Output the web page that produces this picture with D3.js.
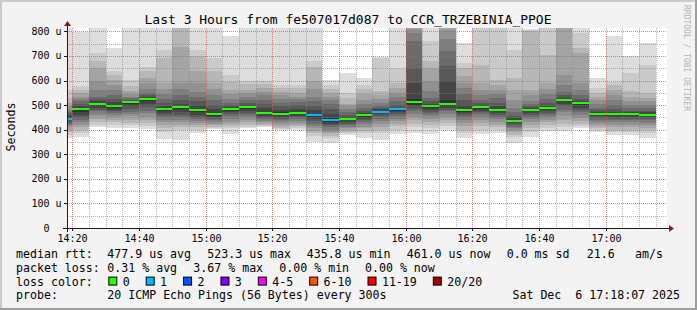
<!DOCTYPE html>
<html>
<head>
<meta charset="utf-8">
<script src="https://cdn.jsdelivr.net/npm/d3@7"></script>
<style>
body { margin: 0; background: #fff; }
svg { display: block; }
text { font-family: "DejaVu Sans Mono", monospace; fill: #000; white-space: pre; }
</style>
</head>
<body>
<div id="chart"></div>
<script>
// 5 minute slots (start time of each smoke column)
const slots = ['14:15','14:20','14:25','14:30','14:35','14:40','14:45','14:50','14:55','15:00',
  '15:05','15:10','15:15','15:20','15:25','15:30','15:35','15:40','15:45','15:50',
  '15:55','16:00','16:05','16:10','16:15','16:20','16:25','16:30','16:35','16:40',
  '16:45','16:50','16:55','17:00','17:05','17:10'];

// median rtt per slot, microseconds
const medians = [445,483,505,497,511,523.3,486,492,480,462,
  484,491,469,464,469,458,439,443,458,474,
  483,513,496,504,480,491,481,435.8,480,488,
  522,507,464,464,464,461];

// lost pings per slot (0 = green, 1 = blue)
const lost = [1,0,0,0,0,0,0,0,0,0,
  0,0,0,0,0,1,1,0,0,1,
  1,0,0,0,0,0,0,0,0,0,
  0,0,0,0,0,0];

// sorted pings 1..10 (low side of the smoke), microseconds
const pingsLow = [
  [366,380,390,400,410,418,425,432,438,442],
  [369,386,400,413,420,431,440,451,458,470],
  [412,420,430,445,455,465,475,482,490,498],
  [405,418,430,440,450,460,468,476,482,490],
  [405,418,428,440,454,462,474,485,495,505],
  [402,415,428,440,452,466,478,492,505,518],
  [362,390,405,420,430,440,452,460,468,478],
  [360,400,410,420,430,440,452,460,470,485],
  [385,400,410,420,428,435,445,452,460,470],
  [402,408,412,418,425,432,440,445,450,456],
  [382,405,415,425,432,445,455,462,470,478],
  [405,412,420,430,440,450,460,468,476,485],
  [410,414,418,424,430,436,442,448,455,462],
  [398,402,408,415,422,430,438,445,452,458],
  [400,408,414,420,428,436,442,450,456,463],
  [348,375,385,395,405,415,425,435,444,452],
  [346,365,375,385,392,400,410,418,425,432],
  [380,386,392,398,405,412,418,425,432,438],
  [366,385,395,405,412,422,430,438,445,452],
  [360,385,400,412,425,435,445,455,462,470],
  [382,400,415,425,435,445,455,462,470,478],
  [385,410,425,438,450,462,475,485,495,502],
  [382,405,420,432,445,455,465,472,480,490],
  [398,415,428,440,452,465,475,482,490,498],
  [366,385,400,415,428,440,450,458,466,474],
  [382,400,415,428,440,452,462,470,478,486],
  [386,398,410,420,432,442,452,460,468,475],
  [346,370,380,390,398,405,412,420,428,434],
  [370,390,405,420,432,442,452,460,468,476],
  [393,408,420,430,440,450,460,468,476,484],
  [395,410,425,440,455,470,482,495,505,515],
  [405,415,425,436,448,460,470,480,490,500],
  [392,398,406,414,422,430,438,446,454,460],
  [380,390,400,410,420,430,438,445,452,458],
  [380,390,400,410,420,430,438,445,452,460],
  [366,385,398,408,418,428,438,445,452,458]
];

// sorted pings 11..20 (high side of the smoke), microseconds
const pingsHigh = [
  [448,455,462,470,480,495,510,530,560,880],
  [487,495,504,515,526,535,549,563,576,797],
  [510,515,525,535,560,600,652,678,713,860],
  [502,512,525,540,563,580,603,624,637,732],
  [514,516,522,528,535,545,556,576,603,860],
  [527,532,540,550,565,590,611,640,657,860],
  [490,498,510,525,545,565,590,690,725,860],
  [496,505,520,542,565,590,735,830,870,900],
  [485,500,515,535,555,590,640,700,725,860],
  [468,485,500,520,540,565,590,640,691,860],
  [486,492,500,510,525,545,563,595,624,780],
  [494,500,510,522,535,548,563,585,600,860],
  [474,490,505,520,540,555,570,585,600,860],
  [470,482,495,510,525,540,555,570,583,860],
  [474,486,500,512,525,535,550,570,583,860],
  [465,480,495,515,535,565,600,655,678,860],
  [446,465,485,505,522,535,549,565,583,603],
  [446,452,460,470,485,495,505,530,549,630],
  [461,468,478,490,505,520,545,565,583,610],
  [478,484,490,498,510,525,540,556,690,694],
  [485,490,500,515,535,549,570,590,651,860],
  [525,590,650,760,795,810,840,870,900,950],
  [499,505,515,530,556,600,651,678,759,860],
  [520,600,660,720,770,805,830,860,900,950],
  [486,500,520,545,570,590,620,650,671,752],
  [494,500,510,522,540,560,590,664,830,880],
  [485,495,510,528,545,560,580,603,825,870],
  [441,447,455,470,490,520,560,610,725,860],
  [483,488,495,505,518,540,560,800,805,810],
  [491,497,508,525,545,565,590,705,813,880],
  [525,530,540,555,580,624,830,860,900,950],
  [510,515,525,540,560,590,712,732,793,860],
  [467,472,480,490,505,520,535,550,569,610],
  [467,473,485,500,520,540,560,580,596,783],
  [466,470,478,488,500,515,535,556,630,698],
  [464,470,478,488,500,515,530,549,664,752]
];

const yTicks = [0,100,200,300,400,500,600,700,800];
const yTickLabels = ['0  ','100 u','200 u','300 u','400 u','500 u','600 u','700 u','800 u'];
const xTickLabels = ['14:20','14:40','15:00','15:20','15:40','16:00','16:20','16:40','17:00'];

const lossColors = ['#26ff00','#00b8ff','#0059ff','#7e00ff','#ff00ff','#ff5500','#ff0000','#a00000'];
const lossLabels = ['0','1','2','3','4-5','6-10','11-19','20/20'];

const rttItems = ['median rtt:','477.9 us avg','523.3 us max','435.8 us min','461.0 us now','0.0 ms sd','21.6','am/s'];
const lossItems = ['packet loss:','0.31 % avg','3.67 % max','0.00 % min','0.00 % now'];
const probeItems = ['probe:','20 ICMP Echo Pings (56 Bytes) every 300s'];
const stamp = 'Sat Dec  6 17:18:07 2025';

const width = 697, height = 310;
const plot = {left: 67, right: 667, top: 28, bottom: 228};

const parse = d3.utcParse('%Y-%m-%d %H:%M:%S');
const at = hm => parse('2025-12-06 ' + hm + (hm.length === 5 ? ':00' : ''));
const x = d3.scaleUtc()
  .domain([at('14:18:17'), at('17:18:17')])
  .range([plot.left, plot.right]);
const y = d3.scaleLinear()
  .domain([0, 813.8])
  .range([plot.bottom, plot.top]);

const svg = d3.select('#chart').append('svg')
  .attr('width', width)
  .attr('height', height);

// background and 3d frame
svg.append('rect').attr('width', width).attr('height', height).attr('fill', '#f3f3f3');
svg.append('path').attr('d', `M1,${height} V1 H${width}`).attr('stroke', '#cbcbcb').attr('stroke-width', 2).attr('fill', 'none');
svg.append('path').attr('d', `M0,${height - 1} H${width - 1} V0`).attr('stroke', '#9e9e9e').attr('stroke-width', 2).attr('fill', 'none');

svg.append('rect')
  .attr('x', plot.left).attr('y', plot.top)
  .attr('width', plot.right - plot.left).attr('height', plot.bottom - plot.top)
  .attr('fill', '#fff');

svg.append('clipPath').attr('id', 'plotclip')
  .append('rect')
  .attr('x', plot.left).attr('y', plot.top)
  .attr('width', plot.right - plot.left).attr('height', plot.bottom - plot.top);

// smoke
const smoke = svg.append('g').attr('clip-path', 'url(#plotclip)').attr('shape-rendering', 'crispEdges');
slots.forEach((s, i) => {
  const t0 = at(s);
  const x0 = Math.floor(x(t0)), x1 = Math.floor(x(d3.utcMinute.offset(t0, 5)));
  const p = pingsLow[i].concat(pingsHigh[i]);
  for (let ibot = 1; ibot <= 10; ibot++) {
    const c = Math.floor(190 / 10 * (10 - ibot)) + 50;
    const lo = p[ibot - 1], hi = p[20 - ibot];
    smoke.append('rect')
      .attr('x', x0).attr('width', x1 - x0)
      .attr('y', y(hi)).attr('height', y(lo) - y(hi))
      .attr('fill', d3.rgb(c, c, c));
  }
  // median, coloured by loss
  smoke.append('rect')
    .attr('x', x0).attr('width', x1 - x0)
    .attr('y', y(medians[i]) - 1).attr('height', 2)
    .attr('fill', lossColors[lost[i]]);
});

// grid (drawn over the smoke like rrdtool does)
const minorColor = 'rgba(130,130,130,0.6)', majorColor = 'rgba(222,79,79,0.7)';
const gridMinor = svg.append('g').attr('stroke', minorColor).attr('stroke-dasharray', '1,1');
const gridMajor = svg.append('g').attr('stroke', majorColor).attr('stroke-dasharray', '1,1');
d3.range(0, 36).forEach(k => {
  const t = d3.utcMinute.offset(at('14:20'), 5 * k);
  const xp = Math.floor(x(t)) + 0.5;
  (k % 4 === 0 ? gridMajor : gridMinor).append('line')
    .attr('x1', xp).attr('x2', xp).attr('y1', plot.top).attr('y2', plot.bottom);
});
d3.range(50, 801, 50).forEach(v => {
  const yp = Math.round(y(v)) + 0.5;
  (v % 100 === 0 ? gridMajor : gridMinor).append('line')
    .attr('x1', plot.left).attr('x2', plot.right).attr('y1', yp).attr('y2', yp);
});

// axes
const axisColor = '#1a1a1a';
svg.append('line').attr('x1', plot.left - 4).attr('x2', plot.right + 2)
  .attr('y1', plot.bottom + 0.5).attr('y2', plot.bottom + 0.5).attr('stroke', axisColor);
svg.append('line').attr('x1', plot.left + 0.5).attr('x2', plot.left + 0.5)
  .attr('y1', plot.bottom + 4).attr('y2', plot.top - 3).attr('stroke', axisColor);
svg.append('path').attr('d', `M${plot.left + 0.5},${plot.top - 7} l-3.5,5 h7 z`).attr('fill', '#8b1a1a');
svg.append('path').attr('d', `M${plot.right + 7},${plot.bottom + 0.5} l-5,-3.5 v7 z`).attr('fill', '#8b1a1a');

// y ticks and labels
yTicks.forEach((v, i) => {
  const yp = Math.round(y(v)) + 0.5;
  svg.append('line').attr('x1', plot.left - 3).attr('x2', plot.left)
    .attr('y1', yp).attr('y2', yp).attr('stroke', axisColor);
  svg.append('text')
    .attr('x', 61.5).attr('y', y(v) + 3.5)
    .attr('text-anchor', 'end')
    .attr('font-size', 10)
    .text(yTickLabels[i]);
});

// x ticks and labels
xTickLabels.forEach(l => {
  const t = at(l);
  const xp = Math.floor(x(t)) + 0.5;
  svg.append('line').attr('x1', xp).attr('x2', xp)
    .attr('y1', plot.bottom).attr('y2', plot.bottom + 3).attr('stroke', axisColor);
  svg.append('text')
    .attr('x', xp).attr('y', 242)
    .attr('text-anchor', 'middle')
    .attr('font-size', 10)
    .text(l);
});

// title and side texts
svg.append('text')
  .attr('x', 348).attr('y', 24)
  .attr('text-anchor', 'middle')
  .attr('font-size', 13)
  .text('Last 3 Hours from fe507017d087 to CCR_TRZEBINIA_PPOE');

svg.append('text')
  .attr('transform', 'translate(14.5,127) rotate(-90)')
  .attr('text-anchor', 'middle')
  .attr('font-size', 11.6)
  .text('Seconds');

svg.append('text')
  .attr('transform', 'translate(684,5) rotate(90)')
  .attr('font-size', 8)
  .style('fill', '#b4b4b4')
  .text('RRDTOOL / TOBI OETIKER');

// legend: items follow each other with a fixed gap, values start at a tab stop
const fs = 11.6, gap = 16, tab = 107.3;
const legendY = [257.7, 271.7, 285.6, 299.4];
const addRow = (items, yy, xs) => items.forEach((t, i) => {
  svg.append('text').attr('x', xs[i]).attr('y', yy).attr('font-size', fs).text(t);
});
addRow(rttItems, legendY[0], [16, tab, 207.3, 306.7, 406.7, 506.7, 586.7, 635]);
addRow(lossItems, legendY[1], [16, tab, 193.3, 279.3, 365]);
addRow(['loss color:'], legendY[2], [16]);
addRow(probeItems, legendY[3], [16, tab]);
svg.append('text').attr('x', 680).attr('y', legendY[3]).attr('text-anchor', 'end')
  .attr('font-size', fs).text(stamp);

let bx = 108.3;
lossLabels.forEach((l, i) => {
  svg.append('rect')
    .attr('x', bx + 0.5).attr('y', legendY[2] - 8.5)
    .attr('width', 8).attr('height', 8)
    .attr('fill', lossColors[i])
    .attr('stroke', '#000');
  const t = svg.append('text')
    .attr('x', bx + 14.4).attr('y', legendY[2])
    .attr('font-size', fs)
    .text(l);
  bx = bx + 14.4 + t.node().getComputedTextLength() + gap;
});
</script>
</body>
</html>
